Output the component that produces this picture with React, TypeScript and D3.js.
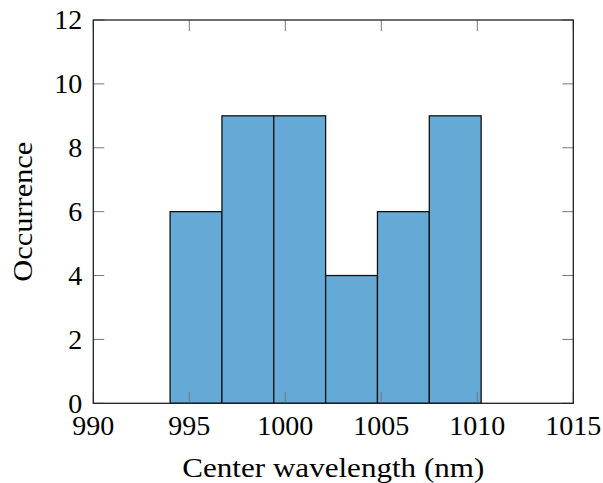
import React from 'react';
import * as d3 from 'd3';

// histogram of center wavelengths
const binEdges = [994.0, 996.7, 999.4, 1002.1, 1004.8, 1007.5, 1010.2];
const counts = [6, 9, 9, 4, 6, 9];
const xTicks = [990, 995, 1000, 1005, 1010, 1015];
const yTicks = [0, 2, 4, 6, 8, 10, 12];

const W = 603;
const H = 483;
const margin = { left: 93.3, right: 29.7, top: 20, bottom: 79.7 };
const font = '"Liberation Serif", serif';

export default function App() {
  const x = d3.scaleLinear().domain([990, 1015]).range([margin.left, W - margin.right]);
  const y = d3.scaleLinear().domain([0, 12]).range([H - margin.bottom, margin.top]);
  const x0 = x.range()[0], x1 = x.range()[1];
  const y0 = y.range()[0], y1 = y.range()[1];
  const tickLen = 11;

  return (
    <svg width={W} height={H} style={{ position: 'absolute', left: 0, top: 0 }}>
      <rect width={W} height={H} fill="white" />
      {counts.map((c, i) => (
        <rect
          key={i}
          x={x(binEdges[i])}
          y={y(c)}
          width={x(binEdges[i + 1]) - x(binEdges[i])}
          height={y(0) - y(c)}
          fill="#65a9d7"
          stroke="#111"
          strokeWidth={1.3}
        />
      ))}
      {/* ticks, mirrored on both sides */}
      {xTicks.map(t => (
        <g key={'x' + t} stroke="#777" strokeWidth={1}>
          <line x1={x(t)} x2={x(t)} y1={y0} y2={y0 - tickLen} />
          <line x1={x(t)} x2={x(t)} y1={y1} y2={y1 + tickLen} />
        </g>
      ))}
      {yTicks.map(t => (
        <g key={'y' + t} stroke="#777" strokeWidth={1}>
          <line x1={x0} x2={x0 + tickLen} y1={y(t)} y2={y(t)} />
          <line x1={x1} x2={x1 - tickLen} y1={y(t)} y2={y(t)} />
        </g>
      ))}
      <rect x={x0} y={y1} width={x1 - x0} height={y0 - y1} fill="none" stroke="#222" strokeWidth={1.3} />
      {xTicks.map(t => (
        <text key={'xl' + t} x={x(t)} y={y0 + 32} textAnchor="middle" fontFamily={font} fontSize={28}>
          {t}
        </text>
      ))}
      {yTicks.map(t => (
        <text key={'yl' + t} x={x0 - 11} y={y(t)} dy="0.33em" textAnchor="end" fontFamily={font} fontSize={28}>
          {t}
        </text>
      ))}
      <text
        x={(x0 + x1) / 2}
        y={477}
        textAnchor="middle"
        fontFamily={font}
        fontSize={28}
        textLength={302}
        lengthAdjust="spacingAndGlyphs"
      >
        Center wavelength (nm)
      </text>
      <text
        transform={`translate(32,${(y0 + y1) / 2}) rotate(-90)`}
        textAnchor="middle"
        fontFamily={font}
        fontSize={28}
        textLength={140}
        lengthAdjust="spacingAndGlyphs"
      >
        Occurrence
      </text>
    </svg>
  );
}
